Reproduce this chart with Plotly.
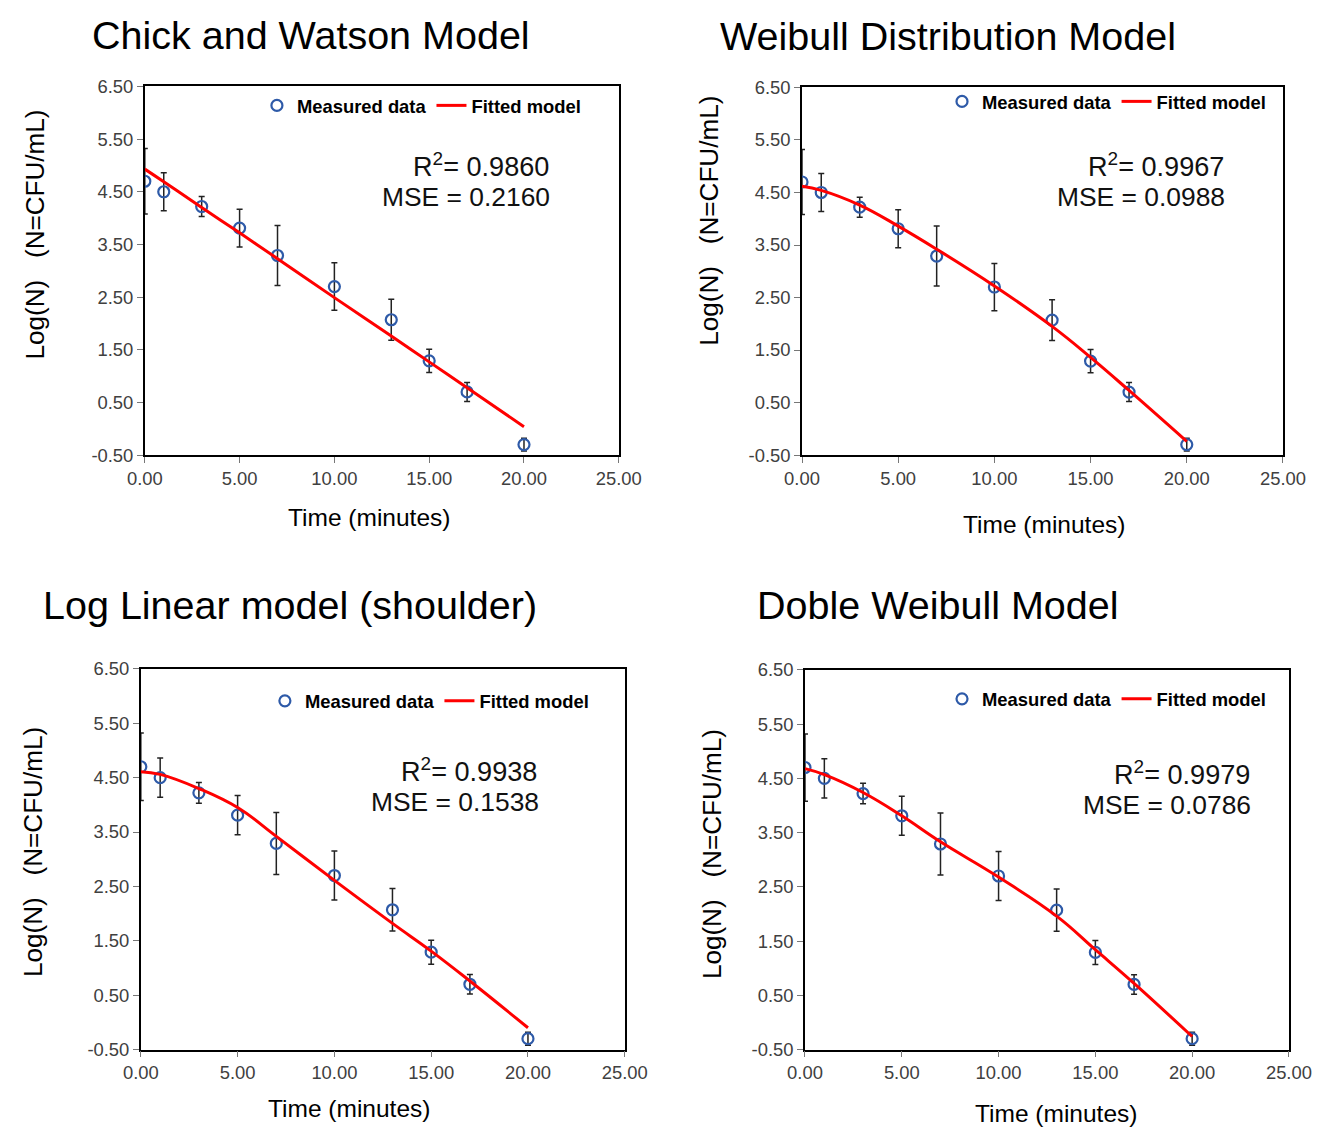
import plotly.graph_objects as go

# ---------------- data ----------------
time_min = [0, 1, 3, 5, 7, 10, 13, 15, 17, 20]
log_n = [4.70, 4.50, 4.22, 3.81, 3.29, 2.70, 2.07, 1.29, 0.70, -0.30]
log_n_err = [0.62, 0.36, 0.19, 0.36, 0.57, 0.45, 0.39, 0.22, 0.18, 0.12]

fit_chick_watson = [4.93, 4.69, 4.20, 3.72, 3.23, 2.49, 1.76, 1.27, 0.78, 0.04]
fit_weibull = [4.62, 4.54, 4.26, 3.86, 3.42, 2.72, 1.95, 1.36, 0.73, -0.24]
fit_log_linear_shoulder = [4.61, 4.56, 4.30, 3.95, 3.42, 2.61, 1.82, 1.31, 0.76, -0.10]
fit_double_weibull = [4.68, 4.57, 4.24, 3.81, 3.33, 2.68, 1.96, 1.34, 0.72, -0.26]

panel_titles = ["Chick and Watson Model", "Weibull Distribution Model",
                "Log Linear model (shoulder)", "Doble Weibull Model"]
r2_values = ["0.9860", "0.9967", "0.9938", "0.9979"]
mse_values = ["0.2160", "0.0988", "0.1538", "0.0786"]

x_tick_vals = [0, 5, 10, 15, 20, 25]
x_tick_text = ["0.00", "5.00", "10.00", "15.00", "20.00", "25.00"]
y_tick_vals = [-0.5, 0.5, 1.5, 2.5, 3.5, 4.5, 5.5, 6.5]
y_tick_text = ["-0.50", "0.50", "1.50", "2.50", "3.50", "4.50", "5.50", "6.50"]

fits = [fit_chick_watson, fit_weibull, fit_log_linear_shoulder, fit_double_weibull]

# ---------------- layout geometry (pixels) ----------------
W, H = 1326, 1128
FONT = "Arial, Liberation Sans, sans-serif"
SX, OX = 0.9732, 23.7   # observed render mapping (compensated below)
SY, OY = 0.9823, 16.5


def px(x):
    return ((x - OX) / SX) / W


def py(y):
    return 1 - ((y - OY) / SY) / H


def fs(size):
    return round(size / ((SX + SY) / 2), 1)


# plot areas: (left, right, top, bottom) in target pixels
areas = [(143, 619, 84, 453), (803, 1286, 85, 453),
         (139, 625, 667, 1048), (806, 1292, 668, 1048)]
title_pos = [(310, 33), (950, 34), (289, 603), (940, 603)]
xlabel_pos = [(368, 515), (1046, 522), (348, 1107), (1058, 1112)]
ylabel_pos = [(33, 232), (710, 218), (30, 850), (712, 852)]
r2_pos = [(551, 163), (1229, 163), (539, 768), (1255, 771)]
mse_pos = [(552, 195), (1230, 195), (541, 800), (1256, 803)]
legend_pos = [(586, 103), (1274, 99), (594, 699), (1274, 697)]

fig = go.Figure()
annotations = []
layout_kw = {}

for i in range(4):
    n = "" if i == 0 else str(i + 1)
    xa, ya = "x" + n, "y" + n
    lg = "legend" + n
    l, r, t, b = areas[i]

    fig.add_trace(go.Scatter(
        x=time_min, y=log_n, mode="markers", name="Measured data",
        xaxis=xa, yaxis=ya, legend=lg,
        error_y=dict(type="data", array=log_n_err, color="#222222",
                     thickness=1.5, width=3),
        marker=dict(symbol="circle-open", size=11, color="#2E5AA8",
                    line=dict(width=2.2, color="#2E5AA8")),
    ))
    fig.add_trace(go.Scatter(
        x=time_min, y=fits[i], mode="lines", name="Fitted model",
        xaxis=xa, yaxis=ya, legend=lg,
        line=dict(color="#FF0000", width=3, shape="spline", smoothing=1.2),
    ))

    axis_common = dict(
        showline=True, mirror=True, linecolor="black", linewidth=1.6,
        ticks="outside", ticklen=6, tickcolor="#777777",
        showgrid=False, zeroline=False,
        tickfont=dict(family=FONT, size=fs(18), color="#404040"),
    )
    layout_kw["xaxis" + n] = dict(
        domain=[px(l), px(r)], anchor=ya, range=[0, 25],
        tickvals=x_tick_vals, ticktext=x_tick_text, **axis_common)
    layout_kw["yaxis" + n] = dict(
        domain=[py(b), py(t)], anchor=xa, range=[-0.5, 6.5],
        tickvals=y_tick_vals, ticktext=y_tick_text, **axis_common)

    lx, ly = legend_pos[i]
    layout_kw[lg] = dict(
        x=px(lx), y=py(ly), xanchor="right", yanchor="middle",
        orientation="h", bgcolor="rgba(0,0,0,0)", borderwidth=0,
        font=dict(family=FONT, size=fs(18), color="black", weight="bold"),
        itemwidth=30, tracegroupgap=0,
    )

    tx, ty = title_pos[i]
    annotations.append(dict(text=panel_titles[i], x=px(tx), y=py(ty),
                            xref="paper", yref="paper", showarrow=False,
                            xanchor="center", yanchor="middle",
                            font=dict(family=FONT, size=fs(38.6), color="black")))
    xx, xy = xlabel_pos[i]
    annotations.append(dict(text="Time (minutes)", x=px(xx), y=py(xy),
                            xref="paper", yref="paper", showarrow=False,
                            xanchor="center", yanchor="middle",
                            font=dict(family=FONT, size=fs(24), color="black")))
    yx, yy = ylabel_pos[i]
    annotations.append(dict(text="Log(N)\u00a0\u00a0\u00a0(N=CFU/mL)", x=px(yx), y=py(yy),
                            xref="paper", yref="paper", showarrow=False,
                            textangle=-90, xanchor="center", yanchor="middle",
                            font=dict(family=FONT, size=fs(25.5), color="black")))
    rx, ry = r2_pos[i]
    annotations.append(dict(text="R<sup>2</sup>= " + r2_values[i], x=px(rx), y=py(ry),
                            xref="paper", yref="paper", showarrow=False,
                            xanchor="right", yanchor="middle",
                            font=dict(family=FONT, size=fs(26.5), color="#111111")))
    mx, my = mse_pos[i]
    annotations.append(dict(text="MSE = " + mse_values[i], x=px(mx), y=py(my),
                            xref="paper", yref="paper", showarrow=False,
                            xanchor="right", yanchor="middle",
                            font=dict(family=FONT, size=fs(25.8), color="#111111")))

fig.update_layout(
    width=W, height=H, autosize=False,
    margin=dict(l=0, r=0, t=0, b=0),
    paper_bgcolor="white", plot_bgcolor="white",
    annotations=annotations,
    **layout_kw,
)

fig.write_html("out.html", config={"displayModeBar": False})
